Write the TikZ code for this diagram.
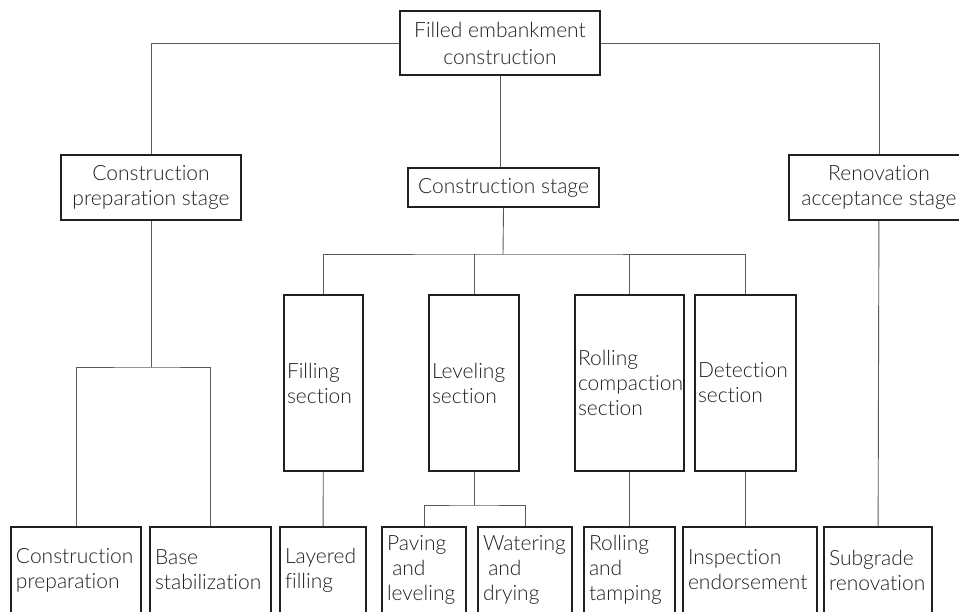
\documentclass[tikz,border=0pt]{standalone}
\usepackage{fontspec}
\setmainfont{Lato}[UprightFont=* Light,Ligatures=NoCommon]
\definecolor{ink}{HTML}{231F20}
\definecolor{wire}{HTML}{5A5A5A}
\begin{document}
\begin{tikzpicture}[x=1pt,y=-1pt,
    font=\fontsize{21}{25}\selectfont,text=ink,
    stagebox/.style={draw=ink,line width=1.7pt,align=center,inner sep=2pt},
    sectbox/.style={draw=ink,line width=1.7pt,align=left,inner xsep=3pt,minimum height=176pt},
    leafbox/.style={draw=ink,line width=1.7pt,align=left,inner xsep=5pt,minimum height=86pt},
    link/.style={draw=wire,line width=0.9pt}]
      \clip (0,0) rectangle (959,612);
      \node[stagebox,minimum width=200pt,minimum height=64pt] (FEC) at (500,43) {Filled embankment\\[2pt]construction};
      \node[stagebox,minimum width=180pt,minimum height=65pt] (CPS) at (151,187.5) {Construction\\preparation stage};
      \node[stagebox,minimum width=191pt,minimum height=39pt] (CS) at (503.5,187.5) {Construction stage};
      \node[stagebox,minimum width=180pt,minimum height=65pt] (RAS) at (879,187.5) {Renovation\\acceptance stage};
      \node[sectbox,text width=73pt] (FS) at (323.5,383) {Filling\\section};
      \node[sectbox,text width=84pt] (LS) at (474,383) {Leveling\\section};
      \node[sectbox,text width=103pt] (RCS) at (629.5,383) {Rolling\\compaction\\section};
      \node[sectbox,text width=95pt] (DS) at (745.5,383) {Detection\\section};
      \node[leafbox,text width=120pt] (CP) at (76,570) {Construction\\preparation};
      \node[leafbox,text width=111pt] (BS) at (210.5,570) {Base\\stabilization};
      \node[leafbox,text width=76pt] (LF) at (323,570) {Layered\\filling};
      \node[leafbox,text width=74pt] (PL) at (424,570) {Paving\\\hspace{0.25em}and\\leveling};
      \node[leafbox,text width=84pt] (WD) at (525,570) {Watering\\\hspace{0.25em}and\\drying};
      \node[leafbox,text width=81pt] (RT) at (629.5,570) {Rolling\\and\\tamping};
      \node[leafbox,text width=124pt] (IE) at (750,570) {Inspection\\endorsement};
      \node[leafbox,text width=98pt] (SR) at (878,570) {Subgrade\\renovation};
      \coordinate (P) at (151,367);
      \coordinate (C) at (503,254);
      \coordinate (L) at (474,505);
      \draw[link] (FEC.west) -| (CPS.north);
      \draw[link] (FEC.east) -| (RAS.north);
      \draw[link] (FEC.south) -- (FEC.south |- CS.north);
      \draw[link] (CPS.south) -- (P);
      \draw[link] (CP.north) |- (P) -| (BS.north);
      \draw[link] (CS.south) -- (C);
      \draw[link] (FS.north) |- (C) -| (DS.north);
      \draw[link] (LS.north) -- (LS.north |- C);
      \draw[link] (RCS.north) -- (RCS.north |- C);
      \draw[link] (LS.south) -- (L);
      \draw[link] (PL.north) |- (L) -| (WD.north);
      \draw[link] (FS) -- (LF);
      \draw[link] (RCS) -- (RT);
      \draw[link] (DS.south) -- (DS.south |- IE.north);
      \draw[link] (RAS) -- (SR);
    \end{tikzpicture}
\end{document}
